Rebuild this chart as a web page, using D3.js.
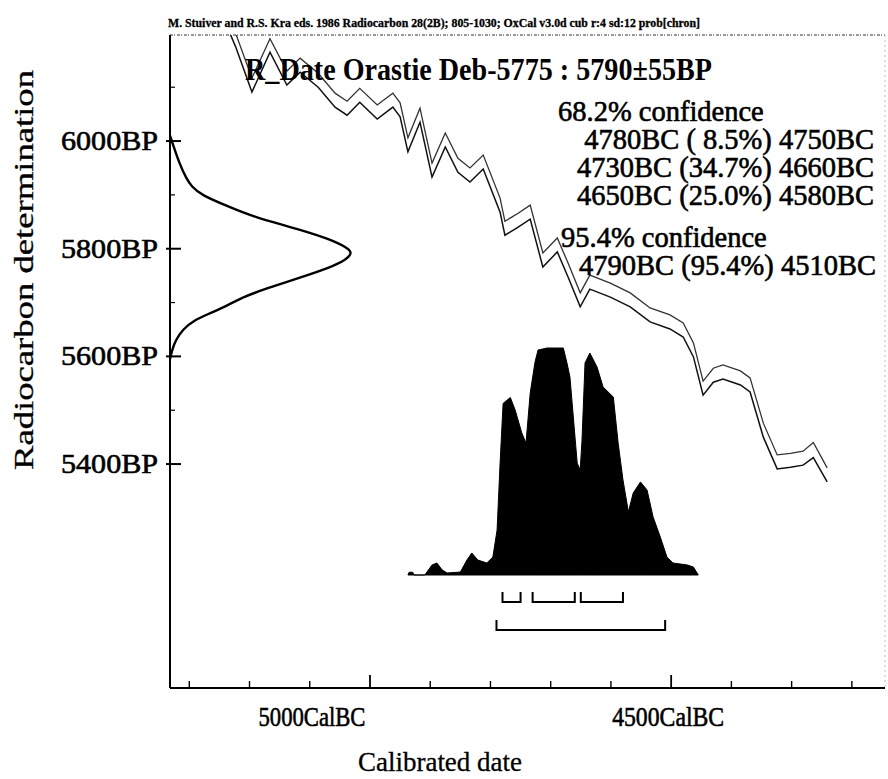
<!DOCTYPE html>
<html>
<head>
<meta charset="utf-8">
<script src="https://cdn.jsdelivr.net/npm/d3@7/dist/d3.min.js"></script>
<style>
  html, body { margin: 0; padding: 0; background: #fff; }
  svg { display: block; }
  text { font-family: "Liberation Serif", "DejaVu Serif", serif; fill: #000; }
  text.heavy { stroke: #000; stroke-width: 0.6px; }
</style>
</head>
<body>
<svg id="chart" width="888" height="779"></svg>
<script>
// ---------------- DATA ----------------
const headerText = "M. Stuiver and R.S. Kra eds. 1986 Radiocarbon 28(2B); 805-1030;  OxCal v3.0d cub r:4 sd:12 prob[chron]";
const titleText = "R_Date Orastie Deb-5775 : 5790\u00B155BP";
const confidenceLines = [
  "68.2% confidence",
  "4780BC ( 8.5%) 4750BC",
  "4730BC (34.7%) 4660BC",
  "4650BC (25.0%) 4580BC",
  "95.4% confidence",
  "4790BC (95.4%) 4510BC"
];
const yTickValues = [6000, 5800, 5600, 5400];
const yMinorTicks = [6100, 5900, 5700, 5500];
const yTickLabels = ["6000BP", "5800BP", "5600BP", "5400BP"];
const xTickValues = [5000, 4500];
const xTickLabels = ["5000CalBC", "4500CalBC"];
const xMinorTicks = [5300, 5200, 5100, 4900, 4800, 4700, 4600, 4400, 4300, 4200];

// calibration curve (cal BC, upper / lower BP)
const curveYears = [5240,5223,5196,5166,5138,5116,5086,5058,5038,5017,4988,4962,4950,4937,4917,4897,4875,4854,4834,4812,4784,4776,4754,4734,4713,4689,4671,4651,4635,4601,4568,4535,4502,4480,4463,4447,4430,4414,4385,4369,4347,4324,4302,4281,4264,4241];
const curveUpper = [6245,6200,6117,6190,6130,6154,6126,6089,6074,6098,6067,6089,6071,6006,6061,5959,6015,5968,5950,5974,5894,5851,5866,5881,5792,5820,5773,5718,5751,5736,5718,5690,5677,5662,5625,5554,5578,5584,5573,5560,5476,5417,5420,5424,5440,5393];
const curveLower = [6220,6175,6091,6165,6104,6128,6100,6063,6048,6072,6041,6063,6045,5980,6035,5933,5989,5942,5924,5948,5868,5825,5840,5855,5766,5794,5747,5692,5725,5710,5692,5664,5651,5636,5599,5528,5552,5558,5547,5534,5450,5391,5394,5398,5412,5367];

// radiocarbon measurement distribution (BP, relative probability)
const measBP   = [6010,5990,5960,5930,5915,5900,5877,5860,5835,5815,5800,5792,5780,5765,5747,5725,5710,5692,5680,5667,5650,5630,5610,5595];
const measProb = [0.0,0.02,0.05,0.09,0.12,0.17,0.33,0.45,0.72,0.90,0.98,1.0,0.97,0.88,0.72,0.52,0.40,0.30,0.22,0.13,0.07,0.03,0.01,0.0];

// calibrated distribution (cal BC, relative probability)
const calYears = [4937,4935,4929,4927,4909,4897,4889,4880,4872,4850,4839,4831,4821,4806,4796,4789,4784,4779,4767,4759,4748,4741,4734,4726,4721,4706,4679,4673,4668,4663,4656,4651,4648,4643,4635,4623,4613,4596,4588,4580,4571,4563,4551,4540,4530,4518,4507,4497,4473,4463,4455];
const calProb  = [0.0,0.012,0.012,0.0,0.0,0.044,0.053,0.022,0.009,0.013,0.066,0.097,0.066,0.053,0.079,0.198,0.493,0.756,0.782,0.727,0.626,0.581,0.802,0.938,0.991,1.0,1.0,0.934,0.872,0.714,0.493,0.463,0.595,0.934,0.978,0.916,0.828,0.784,0.581,0.419,0.278,0.361,0.410,0.374,0.256,0.167,0.079,0.053,0.044,0.035,0.0];

// highest probability ranges
const ranges68 = [[4780, 4750], [4730, 4660], [4650, 4580]];
const ranges95 = [[4790, 4510]];

(function () {
// ---------------- SCALES ----------------
const svg = d3.select("#chart");
const pLeft = 170, pRight = 885, pTop = 35, pBottom = 688;

const x = d3.scaleLinear().domain([5332, 4145]).range([pLeft, pRight]);
const y = d3.scaleLinear().domain([4984, 6197]).range([pBottom, pTop]);
const pScale = d3.scaleLinear().domain([0, 1]).range([575, 348]);   // calibrated histogram height
const gScale = d3.scaleLinear().domain([0, 1]).range([pLeft, 352]);  // measurement curve width

svg.append("rect").attr("width", 888).attr("height", 779).attr("fill", "#fff");

svg.append("defs").append("clipPath").attr("id", "plotClip")
  .append("rect").attr("x", pLeft).attr("y", pTop).attr("width", pRight - pLeft).attr("height", pBottom - pTop);

// ---------------- FRAME ----------------
svg.append("line").attr("x1", pLeft).attr("x2", pRight).attr("y1", pTop).attr("y2", pTop)
  .attr("stroke", "#777").attr("stroke-width", 1.6).attr("stroke-dasharray", "3,1,1,2");
svg.append("line").attr("x1", pRight).attr("x2", pRight).attr("y1", pTop).attr("y2", pBottom)
  .attr("stroke", "#bbb").attr("stroke-width", 1).attr("stroke-dasharray", "2,3");

// header
svg.append("text").attr("x", 168).attr("y", 27).attr("class", "heavy")
  .attr("font-size", 12).attr("font-weight", "bold")
  .style("stroke-width", "0.3px")
  .attr("textLength", 532).attr("lengthAdjust", "spacingAndGlyphs")
  .text(headerText);

// ---------------- CALIBRATION CURVE ----------------
const curveG = svg.append("g").attr("clip-path", "url(#plotClip)");
const bandLine = d3.line().x((d, i) => x(curveYears[i])).y(d => y(d));
curveG.append("path").datum(curveUpper).attr("d", bandLine)
  .attr("fill", "none").attr("stroke", "#333").attr("stroke-width", 1.3);
curveG.append("path").datum(curveLower).attr("d", bandLine)
  .attr("fill", "none").attr("stroke", "#111").attr("stroke-width", 1.5);

// ---------------- MEASUREMENT DISTRIBUTION ----------------
const gLine = d3.line().curve(d3.curveBasis)
  .x((d, i) => gScale(measProb[i])).y(d => y(d));
svg.append("path").datum(measBP).attr("d", gLine)
  .attr("fill", "none").attr("stroke", "#000").attr("stroke-width", 2.4);

// ---------------- CALIBRATED DISTRIBUTION ----------------
const calArea = d3.area()
  .x((d, i) => x(calYears[i]))
  .y0(pScale(0))
  .y1((d, i) => pScale(calProb[i]));
svg.append("path").datum(calYears).attr("d", calArea)
  .attr("fill", "#000").attr("stroke", "#000").attr("stroke-width", 1);

// ---------------- RANGE BRACKETS ----------------
function drawBrackets(ranges, baseY) {
  const g = svg.append("g");
  ranges.forEach(r => {
    const x1 = x(r[0]), x2 = x(r[1]);
    g.append("path")
      .attr("d", `M${x1},${baseY - 10}L${x1},${baseY}L${x2},${baseY}L${x2},${baseY - 10}`)
      .attr("fill", "none").attr("stroke", "#000").attr("stroke-width", 2);
  });
}
drawBrackets(ranges68, 602);
drawBrackets(ranges95, 630);

// ---------------- AXES ----------------
svg.append("line").attr("x1", pLeft).attr("x2", pLeft).attr("y1", pTop).attr("y2", pBottom)
  .attr("stroke", "#000").attr("stroke-width", 2);
svg.append("line").attr("x1", pLeft).attr("x2", pRight).attr("y1", pBottom).attr("y2", pBottom)
  .attr("stroke", "#000").attr("stroke-width", 1.8);

// y ticks
svg.selectAll(".ytick").data(yTickValues).enter().append("line")
  .attr("x1", pLeft - 4).attr("x2", pLeft + 11)
  .attr("y1", d => y(d)).attr("y2", d => y(d))
  .attr("stroke", "#000").attr("stroke-width", 2);
svg.selectAll(".ytickm").data(yMinorTicks).enter().append("line")
  .attr("x1", pLeft).attr("x2", pLeft + 5)
  .attr("y1", d => y(d)).attr("y2", d => y(d))
  .attr("stroke", "#000").attr("stroke-width", 1.2);
svg.selectAll(".ylab").data(yTickValues).enter().append("text")
  .attr("class", "heavy")
  .attr("x", 158).attr("y", d => y(d) + 9)
  .attr("text-anchor", "end").attr("font-size", 28)
  .attr("textLength", 97).attr("lengthAdjust", "spacingAndGlyphs")
  .text((d, i) => yTickLabels[i]);

// x ticks
svg.selectAll(".xtick").data(xTickValues).enter().append("line")
  .attr("x1", d => x(d)).attr("x2", d => x(d))
  .attr("y1", pBottom).attr("y2", pBottom - 13)
  .attr("stroke", "#000").attr("stroke-width", 1.8);
svg.selectAll(".xtickm").data(xMinorTicks).enter().append("line")
  .attr("x1", d => x(d)).attr("x2", d => x(d))
  .attr("y1", pBottom).attr("y2", pBottom - 7)
  .attr("stroke", "#000").attr("stroke-width", 1.4);
const xLabelShift = [-58, -3];
const xLabelLen = [107, 112];
svg.selectAll(".xlab").data(xTickValues).enter().append("text")
  .attr("class", "heavy")
  .attr("x", (d, i) => x(d) + xLabelShift[i]).attr("y", 726)
  .attr("text-anchor", "middle").attr("font-size", 28)
  .attr("textLength", (d, i) => xLabelLen[i]).attr("lengthAdjust", "spacingAndGlyphs")
  .text((d, i) => xTickLabels[i]);

// axis titles
svg.append("text").attr("x", 440).attr("y", 771)
  .attr("text-anchor", "middle").attr("font-size", 28)
  .style("stroke", "#000").style("stroke-width", "0.3px")
  .attr("textLength", 164).attr("lengthAdjust", "spacingAndGlyphs")
  .text("Calibrated date");
svg.append("text").attr("transform", "translate(33,270) rotate(-90)")
  .attr("text-anchor", "middle").attr("font-size", 27)
  .style("stroke", "#000").style("stroke-width", "0.3px")
  .attr("textLength", 400).attr("lengthAdjust", "spacingAndGlyphs")
  .text("Radiocarbon determination");

// ---------------- TITLE & CONFIDENCE TEXT ----------------
svg.append("text").attr("x", 245).attr("y", 80)
  .attr("font-size", 31).attr("font-weight", "bold")
  .attr("textLength", 467).attr("lengthAdjust", "spacingAndGlyphs")
  .text(titleText);

const confX = [558, 874, 874, 874, 561, 876];
const confAnchor = ["start", "end", "end", "end", "start", "end"];
const confY = [121, 149, 177, 205, 247, 275];
svg.selectAll(".conf").data(confidenceLines).enter().append("text")
  .attr("class", "heavy")
  .attr("x", (d, i) => confX[i]).attr("y", (d, i) => confY[i])
  .attr("text-anchor", (d, i) => confAnchor[i])
  .attr("font-size", 28.5)
  .style("white-space", "pre")
  .text(d => d);
})();
</script>
</body>
</html>
